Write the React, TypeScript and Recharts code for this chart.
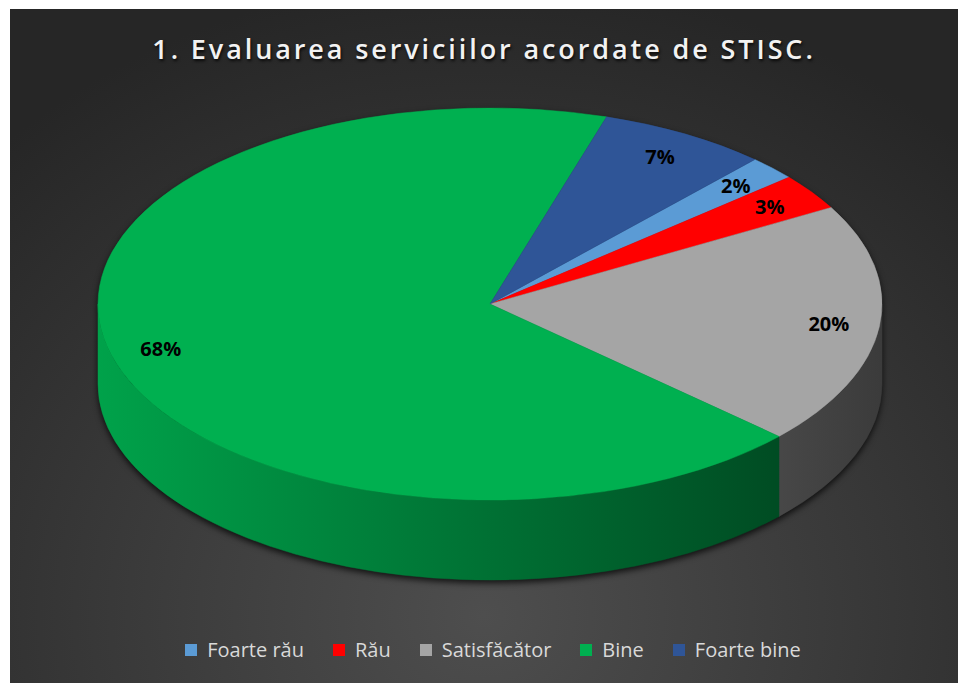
import { PieChart, Pie, Cell, Legend } from "recharts";

const categories = ["Foarte rău", "Rău", "Satisfăcător", "Bine", "Foarte bine"];
const values = [2, 3, 20, 68, 7];
const colors = ["#5b9bd5", "#ff0000", "#a5a5a5", "#00b050", "#2f5597"];

const data = categories.map((name, i) => ({ name, value: values[i] }));

const W = 948;
const H = 674;
const CX = 480;
const CY = 295;
const RADIUS = 392;
const TILT = 0.5; // vertical squash of the top face
const DEPTH = 80;
const FIRST_ANGLE = 47.5;

const shade = (hex: string, f: number) => {
  const n = parseInt(hex.slice(1), 16);
  const c = [(n >> 16) & 255, (n >> 8) & 255, n & 255].map((v) => Math.round(v * f));
  return `rgb(${c[0]},${c[1]},${c[2]})`;
};

const pt = (cx: number, cy: number, rx: number, ry: number, deg: number, dy = 0) => {
  const r = (deg * Math.PI) / 180;
  return `${cx + rx * Math.cos(r)},${cy - ry * Math.sin(r) + dy}`;
};

const Slice3D = (props: any) => {
  const { cx, cy, outerRadius, startAngle, endAngle, fill } = props;
  const rx = outerRadius;
  const ry = outerRadius * TILT;
  const hi = Math.max(startAngle, endAngle);
  const lo = Math.min(startAngle, endAngle);
  const gid = `side-${String(fill).replace("#", "")}`;

  // side wall: only the part of the arc that faces the viewer
  const walls: string[] = [];
  for (let k = -2; k <= 1; k++) {
    const a = Math.max(lo, 180 + 360 * k);
    const b = Math.min(hi, 360 + 360 * k);
    if (a < b) {
      walls.push(
        `M${pt(cx, cy, rx, ry, b)} A${rx},${ry} 0 0 1 ${pt(cx, cy, rx, ry, a)} ` +
          `L${pt(cx, cy, rx, ry, a, DEPTH)} A${rx},${ry} 0 0 0 ${pt(cx, cy, rx, ry, b, DEPTH)} Z`
      );
    }
  }
  const large = hi - lo > 180 ? 1 : 0;
  const top = `M${cx},${cy} L${pt(cx, cy, rx, ry, hi)} A${rx},${ry} 0 ${large} 1 ${pt(cx, cy, rx, ry, lo)} Z`;

  return (
    <g>
      <defs>
        <linearGradient id={gid} gradientUnits="userSpaceOnUse" x1={cx - rx} y1={0} x2={cx + rx} y2={0}>
          <stop offset="0%" stopColor={shade(fill, 0.92)} />
          <stop offset="100%" stopColor={shade(fill, 0.36)} />
        </linearGradient>
      </defs>
      {walls.map((d, i) => (
        <path key={i} d={d} fill={`url(#${gid})`} stroke={`url(#${gid})`} strokeWidth={0.5} />
      ))}
      <path d={top} fill={fill} stroke={fill} strokeWidth={0.5} />
    </g>
  );
};

const renderLabel = (props: any) => {
  const { cx, cy, midAngle, outerRadius, percent } = props;
  const r = (midAngle * Math.PI) / 180;
  const x = cx + outerRadius * 0.87 * Math.cos(r);
  const y = cy - outerRadius * TILT * 0.87 * Math.sin(r);
  return (
    <text
      x={x}
      y={y}
      textAnchor="middle"
      dominantBaseline="central"
      fill="#000"
      fontSize={20}
      fontWeight={700}
      fontFamily="'Open Sans', sans-serif"
    >
      {`${Math.round(percent * 100)}%`}
    </text>
  );
};

const renderLegend = (props: any) => {
  const items = [...(props.payload || [])].sort(
    (a: any, b: any) => categories.indexOf(a.value) - categories.indexOf(b.value)
  );
  return (
    <div
      style={{
        display: "flex",
        justifyContent: "center",
        alignItems: "center",
        gap: 29,
        fontFamily: "'Open Sans', sans-serif",
        fontSize: 20,
        color: "#d9d9d9",
        paddingLeft: 18,
      }}
    >
      {items.map((e: any) => (
        <span key={e.value} style={{ display: "flex", alignItems: "center", gap: 10 }}>
          <span style={{ width: 12, height: 12, background: e.color, display: "inline-block" }} />
          {e.value}
        </span>
      ))}
    </div>
  );
};

export default function App() {
  return (
    <div
      style={{
        position: "absolute",
        left: 10,
        top: 9,
        width: W,
        height: H,
        background:
          "radial-gradient(ellipse 75% 95% at 50% 90%, #4e4e4e 0%, #3c3c3c 45%, #262626 100%)",
      }}
    >
      <style>{`.recharts-pie { filter: drop-shadow(0 3px 3px rgba(0,0,0,0.75)); }`}</style>
      <div
        style={{
          position: "absolute",
          top: 21,
          left: 0,
          width: W,
          textAlign: "center",
          fontFamily: "'Open Sans', sans-serif",
          fontWeight: 600,
          fontSize: 27,
          letterSpacing: 2.9,
          color: "#f2f2f2",
          textShadow: "1px 2px 3px rgba(0,0,0,0.8)",
          zIndex: 2,
        }}
      >
        1. Evaluarea serviciilor acordate de STISC.
      </div>
      <PieChart width={W} height={H} margin={{ top: 0, right: 0, bottom: 0, left: 0 }}>
        <Pie
          data={data}
          dataKey="value"
          nameKey="name"
          cx={CX}
          cy={CY}
          outerRadius={RADIUS}
          startAngle={FIRST_ANGLE}
          endAngle={FIRST_ANGLE - 360}
          shape={Slice3D}
          label={renderLabel}
          labelLine={false}
          isAnimationActive={false}
        >
          {data.map((d, i) => (
            <Cell key={d.name} fill={colors[i]} />
          ))}
        </Pie>
        <Legend
          content={renderLegend}
          wrapperStyle={{ position: "absolute", top: 627, left: 0, width: W }}
        />
      </PieChart>
    </div>
  );
}
